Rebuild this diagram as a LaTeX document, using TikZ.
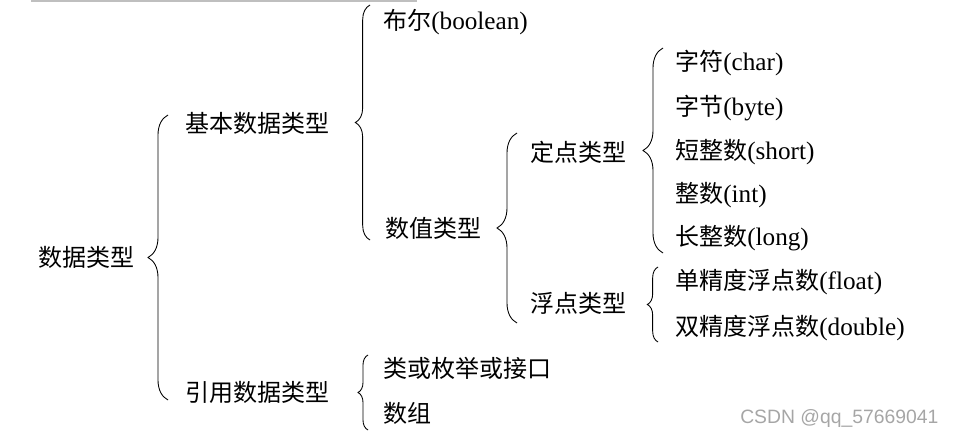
\documentclass[tikz,border=0pt]{standalone}
\usepackage{fontspec}
\setmainfont{Liberation Serif}[Scale=1.05]
\newfontfamily\cjk{Noto Sans CJK SC}
\newfontfamily\wmfont{Liberation Sans}
\usetikzlibrary{decorations.pathreplacing}
\newcommand{\zhtext}[1]{{\cjk #1}}
\tikzset{
  item/.style={anchor=west, inner sep=0pt, font=\fontsize{18pt}{22pt}\selectfont},
  curly/.style={decorate, decoration={brace, amplitude=#1}, line width=0.65pt},
}

\begin{document}
\begin{tikzpicture}[x=0.75pt, y=-0.75pt]
    \useasboundingbox (0,0) rectangle (954,439);
    % grey rule left over at the top edge
    \draw[black!25, line width=1.2pt] (31,0.8) -- (417,0.8);

    % first level
    \node[item] (dt) at (38,257) {\zhtext{数据类型}};
    \draw[curly=15pt] (168,400) -- (168,115);

    % second level
    \node[item] (basic) at (185,123) {\zhtext{基本数据类型}};
    \node[item] (ref) at (185,392) {\zhtext{引用数据类型}};
    \draw[curly=11pt] (370,240) -- (370,5);
    \draw[curly=7.5pt] (368,430) -- (368,355);

    % children of the basic types
    \node[item] (bool) at (383,22) {\zhtext{布尔}(boolean)};
    \node[item] (num) at (385,228) {\zhtext{数值类型}};
    \draw[curly=15pt] (517,323) -- (517,133);

    % children of the reference types
    \node[item] (cls) at (383,368) {\zhtext{类或枚举或接口}};
    \node[item] (arr) at (383,413) {\zhtext{数组}};

    % numeric types
    \node[item] (fixed) at (530,152) {\zhtext{定点类型}};
    \node[item] (flt) at (530,303) {\zhtext{浮点类型}};
    \draw[curly=15pt] (663,253) -- (663,48);
    \draw[curly=8pt] (658,342) -- (658,267);

    \node[item] (chr) at (675,63) {\zhtext{字符}(char)};
    \node[item] (byt) at (675,108) {\zhtext{字节}(byte)};
    \node[item] (sht) at (675,152) {\zhtext{短整数}(short)};
    \node[item] (int) at (675,195) {\zhtext{整数}(int)};
    \node[item] (lng) at (675,238) {\zhtext{长整数}(long)};
    \node[item] (sgl) at (675,282) {\zhtext{单精度浮点数}(float)};
    \node[item] (dbl) at (675,328) {\zhtext{双精度浮点数}(double)};

    % watermark
    \node[anchor=west, inner sep=0pt, text=black!35, font=\wmfont\fontsize{14.5pt}{16pt}\selectfont] (wm) at (740,418) {CSDN @qq\_57669041};
\end{tikzpicture}
\end{document}
